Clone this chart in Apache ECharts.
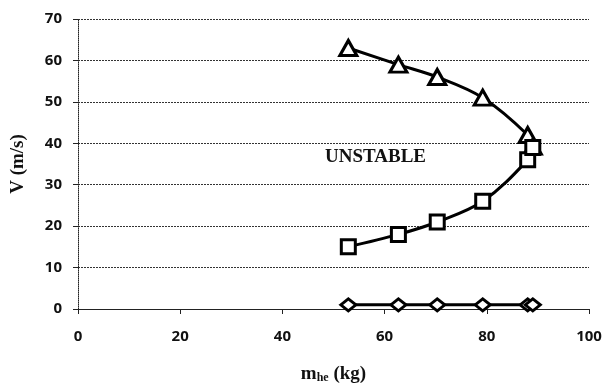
<!DOCTYPE html>
<html>
<head>
<meta charset="utf-8">
<script src="https://cdn.jsdelivr.net/npm/echarts@6/dist/echarts.min.js"></script>
<style>
html, body { margin: 0; padding: 0; background: #fff; }
#chart { width: 603px; height: 389px; }
</style>
</head>
<body>
<div id="chart"></div>
<script>
// values
var massHe = [52.9, 62.7, 70.3, 79.2, 88.0, 89.0];
var upperV = [63, 59, 56, 51, 42, 39.2];
var lowerV = [15, 18, 21, 26, 36, 39];
var lowV = [1, 1, 1, 1, 1, 1];
var xTicks = [0, 20, 40, 60, 80, 100];
var yTicks = [0, 10, 20, 30, 40, 50, 60, 70];

function pairs(xs, ys) {
	var out = [];
	for (var i = 0; i < xs.length; i++) out.push([xs[i], ys[i]]);
	return out;
}

var tickFont = { fontFamily: 'Open Sans', fontSize: 15, fontWeight: 'bold', color: '#111' };

function line(name, ys, symbol, size) {
	return {
		name: name,
		type: 'line',
		smooth: 0.35,
		data: pairs(massHe, ys),
		symbol: symbol,
		symbolSize: size,
		showAllSymbol: true,
		lineStyle: { color: '#000', width: 3 },
		itemStyle: { color: '#fff', borderColor: '#000', borderWidth: 3 },
		z: 3
	};
}

var chart = echarts.init(document.getElementById('chart'));
chart.setOption({
	animation: false,
	backgroundColor: '#fff',
	grid: { left: 78, right: 14, top: 19, bottom: 80, outerBoundsMode: 'none', containLabel: false },
	xAxis: {
		type: 'value',
		min: xTicks[0],
		max: xTicks[xTicks.length - 1],
		interval: 20,
		name: '{m|m}{s|he}{m| (kg)}',
		nameLocation: 'middle',
		nameGap: 55,
		nameTextStyle: {
			rich: {
				m: { fontFamily: 'Liberation Serif', fontWeight: 'bold', fontSize: 19, color: '#111' },
				s: { fontFamily: 'Liberation Serif', fontWeight: 'bold', fontSize: 12, color: '#111', verticalAlign: 'bottom', padding: [8, 0, 0, 0] }
			}
		},
		axisLine: { show: true, lineStyle: { color: '#222', width: 1 } },
		axisTick: { show: true, length: 5, lineStyle: { color: '#222' } },
		axisLabel: Object.assign({ margin: 20 }, tickFont),
		splitLine: { show: false }
	},
	yAxis: {
		type: 'value',
		min: yTicks[0],
		max: yTicks[yTicks.length - 1],
		interval: 10,
		name: 'V (m/s)',
		nameLocation: 'middle',
		nameGap: 50,
		nameTextStyle: { fontFamily: 'Liberation Serif', fontWeight: 'bold', fontSize: 19, color: '#111' },
		axisLine: { show: true, lineStyle: { color: '#222', width: 1, type: 'dotted' } },
		axisTick: { show: true, length: 5, lineStyle: { color: '#222' } },
		axisLabel: Object.assign({ margin: 16 }, tickFont),
		splitLine: { show: true, lineStyle: { color: '#333', width: 1, type: [2, 1] } }
	},
	graphic: [{
		type: 'text',
		left: 325,
		top: 148,
		style: { text: 'UNSTABLE', fontFamily: 'Liberation Serif', fontWeight: 'bold', fontSize: 19, fill: '#111' }
	}],
	series: [
		line('upper', upperV, 'triangle', [17, 15]),
		line('lower', lowerV, 'rect', 14),
		line('low', lowV, 'path://M0,5 L7,0 L14,5 L7,10 Z', [15, 12])
	]
});
</script>
</body>
</html>
